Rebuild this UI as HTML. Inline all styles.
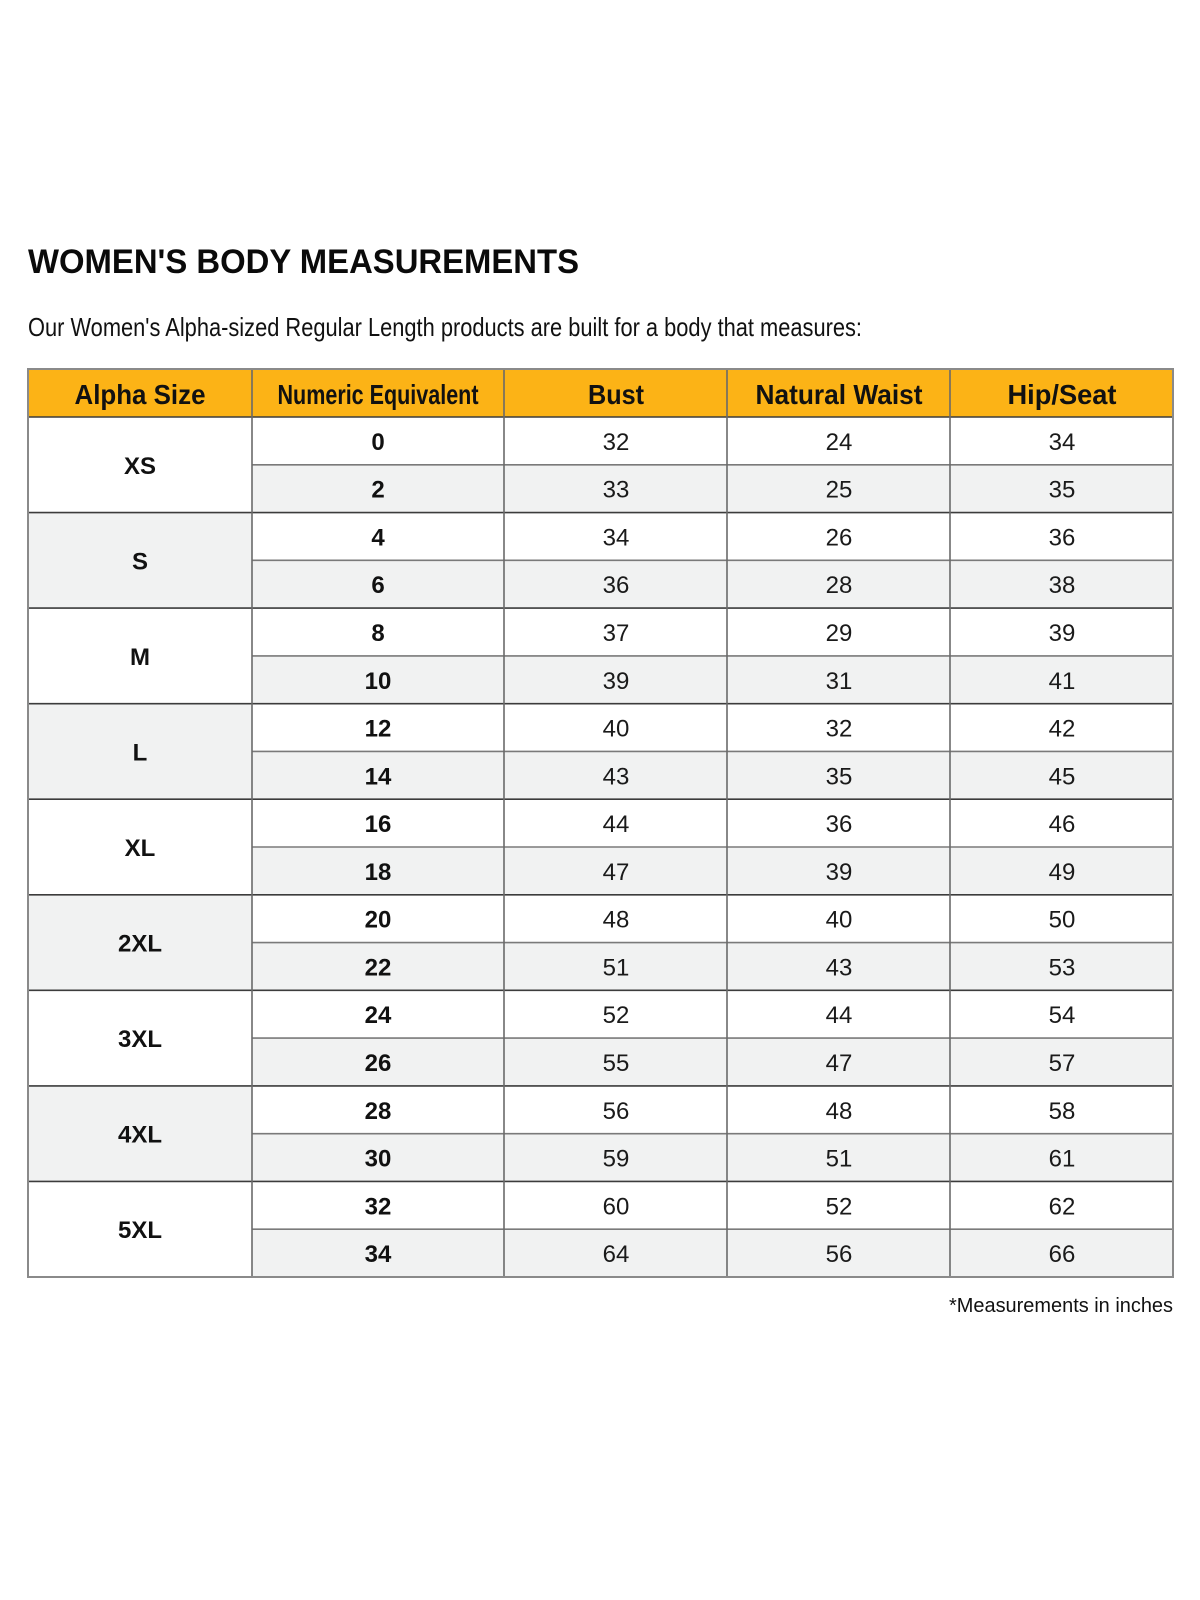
<!DOCTYPE html>
<html>
<head>
<meta charset="utf-8">
<style>
  html,body{margin:0;padding:0;background:#fff;}
  body{width:1200px;height:1600px;overflow:hidden;}
  svg{display:block;}
  .h{font-family:"Liberation Sans",sans-serif;font-weight:bold;font-size:28px;fill:#111;}
  .a{font-family:"Liberation Sans",sans-serif;font-weight:bold;font-size:24px;fill:#111;}
  .n{font-family:"Liberation Sans",sans-serif;font-weight:bold;font-size:24px;fill:#111;}
  .v{font-family:"Liberation Sans",sans-serif;font-size:24px;fill:#1a1a1a;}
</style>
</head>
<body>
<svg width="1200" height="1600" viewBox="0 0 1200 1600" xmlns="http://www.w3.org/2000/svg">
  <rect x="0" y="0" width="1200" height="1600" fill="#fff"/>
  <!-- Title -->
  <text x="28" y="273" font-family="Liberation Sans, sans-serif" font-weight="bold" font-size="34" fill="#0a0a0a" textLength="551" lengthAdjust="spacingAndGlyphs">WOMEN'S BODY MEASUREMENTS</text>
  <text x="28" y="336" font-family="Liberation Sans, sans-serif" font-size="26" fill="#111" textLength="834" lengthAdjust="spacingAndGlyphs">Our Women's Alpha-sized Regular Length products are built for a body that measures:</text>

  <!-- Header -->
  <rect x="28" y="369" width="1145" height="48" fill="#FCB316"/>

  <!-- Gray alternating rows (cols 2-5) -->
  <g fill="#F1F2F2">
    <rect x="252" y="464.78" width="921" height="47.78"/>
    <rect x="252" y="560.33" width="921" height="47.78"/>
    <rect x="252" y="655.89" width="921" height="47.78"/>
    <rect x="252" y="751.44" width="921" height="47.78"/>
    <rect x="252" y="847" width="921" height="47.78"/>
    <rect x="252" y="942.56" width="921" height="47.78"/>
    <rect x="252" y="1038.11" width="921" height="47.78"/>
    <rect x="252" y="1133.67" width="921" height="47.78"/>
    <rect x="252" y="1229.22" width="921" height="47.78"/>
    <!-- Alpha column gray groups -->
    <rect x="28" y="512.56" width="224" height="95.56"/>
    <rect x="28" y="703.67" width="224" height="95.56"/>
    <rect x="28" y="894.78" width="224" height="95.56"/>
    <rect x="28" y="1085.89" width="224" height="95.56"/>
  </g>

  <!-- Within-group lines -->
  <g stroke="#7a7a7a" stroke-width="1.6">
    <line x1="252" y1="464.78" x2="1173" y2="464.78"/>
    <line x1="252" y1="560.33" x2="1173" y2="560.33"/>
    <line x1="252" y1="655.89" x2="1173" y2="655.89"/>
    <line x1="252" y1="751.44" x2="1173" y2="751.44"/>
    <line x1="252" y1="847" x2="1173" y2="847"/>
    <line x1="252" y1="942.56" x2="1173" y2="942.56"/>
    <line x1="252" y1="1038.11" x2="1173" y2="1038.11"/>
    <line x1="252" y1="1133.67" x2="1173" y2="1133.67"/>
    <line x1="252" y1="1229.22" x2="1173" y2="1229.22"/>
  </g>
  <!-- Group boundary lines -->
  <g stroke="#3c3c3c" stroke-width="1.6">
    <line x1="28" y1="417" x2="1173" y2="417"/>
    <line x1="28" y1="512.56" x2="1173" y2="512.56"/>
    <line x1="28" y1="608.11" x2="1173" y2="608.11"/>
    <line x1="28" y1="703.67" x2="1173" y2="703.67"/>
    <line x1="28" y1="799.22" x2="1173" y2="799.22"/>
    <line x1="28" y1="894.78" x2="1173" y2="894.78"/>
    <line x1="28" y1="990.33" x2="1173" y2="990.33"/>
    <line x1="28" y1="1085.89" x2="1173" y2="1085.89"/>
    <line x1="28" y1="1181.44" x2="1173" y2="1181.44"/>
  </g>
  <!-- Vertical lines -->
  <g stroke="#6a6a6a" stroke-width="1.6">
    <line x1="252" y1="369" x2="252" y2="1277"/>
    <line x1="504" y1="369" x2="504" y2="1277"/>
    <line x1="727" y1="369" x2="727" y2="1277"/>
    <line x1="950" y1="369" x2="950" y2="1277"/>
  </g>
  <!-- Outer border -->
  <rect x="28" y="369" width="1145" height="908" fill="none" stroke="#8a8a8a" stroke-width="2"/>

  <!-- Header text -->
  <g class="h" text-anchor="middle">
    <text x="140" y="404" textLength="131" lengthAdjust="spacingAndGlyphs">Alpha Size</text>
    <text x="378" y="404" textLength="201" lengthAdjust="spacingAndGlyphs">Numeric Equivalent</text>
    <text x="616" y="404" textLength="56" lengthAdjust="spacingAndGlyphs">Bust</text>
    <text x="839" y="404" textLength="167" lengthAdjust="spacingAndGlyphs">Natural Waist</text>
    <text x="1062" y="404" textLength="109" lengthAdjust="spacingAndGlyphs">Hip/Seat</text>
  </g>

  <!-- Alpha sizes -->
  <g class="a" text-anchor="middle">
    <text x="140" y="473.8">XS</text>
    <text x="140" y="569.3">S</text>
    <text x="140" y="664.9">M</text>
    <text x="140" y="760.4">L</text>
    <text x="140" y="856.0">XL</text>
    <text x="140" y="951.6">2XL</text>
    <text x="140" y="1047.1">3XL</text>
    <text x="140" y="1142.7">4XL</text>
    <text x="140" y="1238.2">5XL</text>
  </g>

  <!-- Numeric equivalents -->
  <g class="n" text-anchor="middle">
    <text x="378" y="449.9">0</text>
    <text x="378" y="497.7">2</text>
    <text x="378" y="545.5">4</text>
    <text x="378" y="593.2">6</text>
    <text x="378" y="641.0">8</text>
    <text x="378" y="688.8">10</text>
    <text x="378" y="736.6">12</text>
    <text x="378" y="784.3">14</text>
    <text x="378" y="832.1">16</text>
    <text x="378" y="879.9">18</text>
    <text x="378" y="927.7">20</text>
    <text x="378" y="975.5">22</text>
    <text x="378" y="1023.2">24</text>
    <text x="378" y="1071.0">26</text>
    <text x="378" y="1118.8">28</text>
    <text x="378" y="1166.6">30</text>
    <text x="378" y="1214.3">32</text>
    <text x="378" y="1262.1">34</text>
  </g>

  <!-- Bust -->
  <g class="v" text-anchor="middle">
    <text x="616" y="449.9">32</text>
    <text x="616" y="497.7">33</text>
    <text x="616" y="545.5">34</text>
    <text x="616" y="593.2">36</text>
    <text x="616" y="641.0">37</text>
    <text x="616" y="688.8">39</text>
    <text x="616" y="736.6">40</text>
    <text x="616" y="784.3">43</text>
    <text x="616" y="832.1">44</text>
    <text x="616" y="879.9">47</text>
    <text x="616" y="927.7">48</text>
    <text x="616" y="975.5">51</text>
    <text x="616" y="1023.2">52</text>
    <text x="616" y="1071.0">55</text>
    <text x="616" y="1118.8">56</text>
    <text x="616" y="1166.6">59</text>
    <text x="616" y="1214.3">60</text>
    <text x="616" y="1262.1">64</text>
  </g>

  <!-- Natural Waist -->
  <g class="v" text-anchor="middle">
    <text x="839" y="449.9">24</text>
    <text x="839" y="497.7">25</text>
    <text x="839" y="545.5">26</text>
    <text x="839" y="593.2">28</text>
    <text x="839" y="641.0">29</text>
    <text x="839" y="688.8">31</text>
    <text x="839" y="736.6">32</text>
    <text x="839" y="784.3">35</text>
    <text x="839" y="832.1">36</text>
    <text x="839" y="879.9">39</text>
    <text x="839" y="927.7">40</text>
    <text x="839" y="975.5">43</text>
    <text x="839" y="1023.2">44</text>
    <text x="839" y="1071.0">47</text>
    <text x="839" y="1118.8">48</text>
    <text x="839" y="1166.6">51</text>
    <text x="839" y="1214.3">52</text>
    <text x="839" y="1262.1">56</text>
  </g>

  <!-- Hip/Seat -->
  <g class="v" text-anchor="middle">
    <text x="1062" y="449.9">34</text>
    <text x="1062" y="497.7">35</text>
    <text x="1062" y="545.5">36</text>
    <text x="1062" y="593.2">38</text>
    <text x="1062" y="641.0">39</text>
    <text x="1062" y="688.8">41</text>
    <text x="1062" y="736.6">42</text>
    <text x="1062" y="784.3">45</text>
    <text x="1062" y="832.1">46</text>
    <text x="1062" y="879.9">49</text>
    <text x="1062" y="927.7">50</text>
    <text x="1062" y="975.5">53</text>
    <text x="1062" y="1023.2">54</text>
    <text x="1062" y="1071.0">57</text>
    <text x="1062" y="1118.8">58</text>
    <text x="1062" y="1166.6">61</text>
    <text x="1062" y="1214.3">62</text>
    <text x="1062" y="1262.1">66</text>
  </g>

  <!-- Footnote -->
  <text x="1173" y="1312" text-anchor="end" font-family="Liberation Sans, sans-serif" font-size="20" fill="#111" textLength="224" lengthAdjust="spacingAndGlyphs">*Measurements in inches</text>
</svg>
</body>
</html>
